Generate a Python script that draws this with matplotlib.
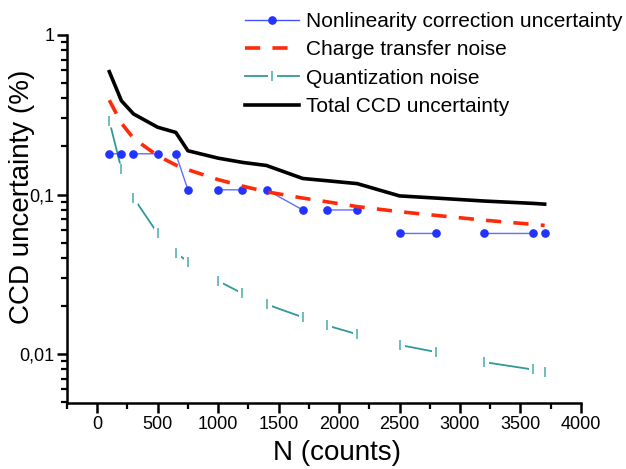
import matplotlib
matplotlib.use("Agg")
import matplotlib.pyplot as plt
from matplotlib.lines import Line2D
from matplotlib.legend_handler import HandlerTuple
from matplotlib.ticker import FixedLocator, LogLocator, FuncFormatter, NullFormatter
import numpy as np

plt.rcParams['font.family'] = ['Liberation Sans', 'DejaVu Sans']

# N (counts) at which each contribution was evaluated
n_counts = [100, 200, 300, 500, 650, 750, 1000, 1200, 1400, 1700, 1900, 2150,
            2500, 2800, 3200, 3600, 3700]

# uncertainty contributions in %
nonlin_corr = [0.18, 0.18, 0.18, 0.18, 0.18, 0.107, 0.107, 0.107, 0.107, 0.080,
               0.080, 0.080, 0.057, 0.057, 0.057, 0.057, 0.057]
charge_transfer = [0.39, 0.28, 0.225, 0.175, 0.153, 0.143, 0.124, 0.113, 0.104,
                   0.095, 0.090, 0.084, 0.078, 0.074, 0.069, 0.065, 0.064]
quantization = [0.29, 0.144, 0.0955, 0.057, 0.043, 0.038, 0.0287, 0.024, 0.0205,
                0.017, 0.0151, 0.0133, 0.0114, 0.0103, 0.0089, 0.0080, 0.0077]
total_ccd = [0.589, 0.387, 0.32, 0.264, 0.245, 0.188, 0.169, 0.159, 0.152, 0.126,
             0.122, 0.117, 0.098, 0.095, 0.091, 0.088, 0.087]

x_ticks = [0, 500, 1000, 1500, 2000, 2500, 3000, 3500, 4000]


def paired(x, y):
    """join points two by two (0-1, 2-3, ...) with NaN breaks in between"""
    xs, ys = [], []
    for i in range(0, len(x) - 1, 2):
        xs += [x[i], x[i + 1], np.nan]
        ys += [y[i], y[i + 1], np.nan]
    return xs, ys


blue = "#2233ff"
red = "#ff2a0a"
teal = "#2f9a98"
teal_light = "#6fbcbc"

fig = plt.figure(figsize=(6.26, 4.69), dpi=100)
ax = fig.add_axes([0.107, 0.1407, 0.821, 0.7847])

# quantization noise: segments with gaps at the tick markers
qx, qy = paired(n_counts, quantization)
ax.plot(qx, qy, color=teal, lw=1.3, zorder=1)
ax.plot(n_counts, quantization, ls="none", marker="|", ms=8, mew=6.5,
        color="white", zorder=1.1)
ax.plot(n_counts, quantization, ls="none", marker="|", ms=7, mew=1.4,
        color=teal_light, zorder=1.2)

# nonlinearity correction
nx, ny = paired(n_counts, nonlin_corr)
ax.plot(nx, ny, color="#4455ff", lw=1.0, alpha=0.85, zorder=3)
ax.plot(n_counts, nonlin_corr, ls="none", marker="o", ms=5.2,
        color=blue, mec=blue, zorder=3.1)

ax.plot(n_counts, charge_transfer, color=red, lw=2.6, dashes=(4.2, 3.4), zorder=4)
ax.plot(n_counts, total_ccd, color="black", lw=2.6, zorder=5)

ax.set_yscale("log")
ax.set_xlim(-250, 4000)
ax.set_ylim(0.00493, 1)

ax.xaxis.set_major_locator(FixedLocator(x_ticks))
ax.xaxis.set_minor_locator(FixedLocator(np.arange(-250, 4000, 500)))
ax.yaxis.set_major_locator(LogLocator(base=10))
ax.yaxis.set_minor_locator(LogLocator(base=10, subs=np.arange(2, 10)))
ax.yaxis.set_major_formatter(FuncFormatter(lambda v, p: f"{v:g}".replace(".", ",")))
ax.yaxis.set_minor_formatter(NullFormatter())

for side in ("top", "right"):
    ax.spines[side].set_visible(False)
for side in ("left", "bottom"):
    ax.spines[side].set_linewidth(1.8)

ax.tick_params(which="major", direction="out", length=7, width=1.8,
               labelsize=13, pad=2)
ax.tick_params(which="minor", direction="out", length=4, width=1.6)

ax.set_xlabel("N (counts)", fontsize=20)
ax.set_ylabel("CCD uncertainty (%)", fontsize=20)
ax.xaxis.set_label_coords(0.525, -0.10)
ax.yaxis.set_label_coords(-0.063, 0.56)

handles = [
    Line2D([], [], color="#4455ff", lw=1.0, marker="o", ms=5.2, mfc=blue, mec=blue),
    Line2D([], [], color=red, lw=2.6, dashes=(4.2, 3.4)),
    (Line2D([], [], color=teal, lw=1.3),
     Line2D([], [], ls="none", marker="|", ms=8, mew=6.5, color="white"),
     Line2D([], [], ls="none", marker="|", ms=7, mew=1.4, color=teal_light)),
    Line2D([], [], color="black", lw=2.6),
]
labels = ["Nonlinearity correction uncertainty", "Charge transfer noise",
          "Quantization noise", "Total CCD uncertainty"]
fig.legend(handles, labels, loc="upper left", bbox_to_anchor=(245 / 626, 1 - 12 / 469),
           frameon=False, fontsize=15, handlelength=2.6, handletextpad=0.35,
           labelspacing=0.45, borderpad=0, borderaxespad=0,
           handler_map={tuple: HandlerTuple(ndivide=1, pad=0)})

fig.savefig("out.png", dpi=100)
